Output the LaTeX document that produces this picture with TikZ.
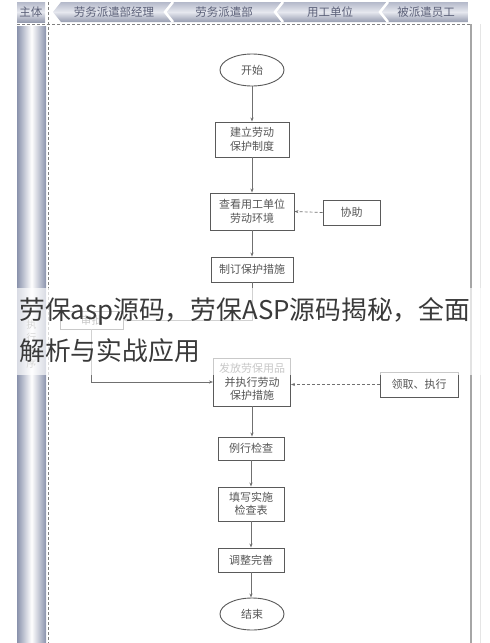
\documentclass[tikz,border=0pt]{standalone}
\usepackage{fontspec}
\newfontfamily\cjk{Noto Sans CJK SC}
\usetikzlibrary{arrows.meta,shapes.geometric}
\definecolor{boxc}{HTML}{5A5A5A}
\definecolor{txtc}{HTML}{555555}
\definecolor{hdtop}{HTML}{B4B9CA}
\definecolor{hdmid}{HTML}{E6E8EF}
\definecolor{hdbot}{HTML}{969CB0}
\definecolor{hdtxt}{HTML}{5B6078}
\definecolor{bar}{HTML}{8A92AC}
\definecolor{linec}{HTML}{707070}
\definecolor{ovtxt}{HTML}{3A3A3A}
\tikzset{
  stepbox/.style={draw=boxc, line width=0.9pt, fill=white, font=\cjk\fontsize{11}{13.5}\selectfont, text=txtc, align=center, inner sep=0pt},
  term/.style={stepbox, ellipse},
  arr/.style={draw=linec, line width=0.7pt, -{Stealth[length=4pt,width=3pt]}},
  darr/.style={arr, densely dashed},
  hdtext/.style={font=\cjk\fontsize{11.5}{13}\selectfont, text=hdtxt},
  sep/.style={draw=white, line width=2.5pt},
}
\begin{document}
\begin{tikzpicture}[x=1pt,y=-1pt]
\useasboundingbox (0,0) rectangle (490,643);
\fill[white] (0,0) rectangle (490,643);
% header
\shade[top color=hdtop, bottom color=hdbot, middle color=hdmid] (17,2) rectangle (45,22);
\node[hdtext] (hzt) at (31,12) {主体};
\shade[top color=hdtop, bottom color=hdbot, middle color=hdmid] (53,12) -- (61,2) -- (468,2) -- (468,22) -- (61,22) -- cycle;
\draw[sep] (173,2) -- (165,12) -- (173,22);
\draw[sep] (283,2) -- (275,12) -- (283,22);
\draw[sep] (388,2) -- (380,12) -- (388,22);
\node[hdtext] (h1) at (114,12) {劳务派遣部经理};
\node[hdtext] (h2) at (224,12) {劳务派遣部};
\node[hdtext] (h3) at (330,12) {用工单位};
\node[hdtext] (h4) at (426,12) {被派遣员工};
\draw[gray, densely dashed, line width=0.5pt] (17,24) -- (470,24);
\draw[gray, densely dashed, line width=0.5pt] (48,2) -- (48,643);
% left bar
\shade[left color=bar, right color=bar, middle color=white] (17,26) rectangle (46,643);
\foreach \c/\yy [count=\i] in {执/325,行/338,程/351,序/364}
  \node[font=\cjk\fontsize{10}{12}\selectfont, text=gray] (lb\i) at (31.5,\yy) {\c};
% right border
\draw[gray!70, line width=1.5pt] (471,24) -- (471,643);
\draw[gray!20, line width=0.8pt] (480,24) -- (480,643);
% nodes
\node[term, minimum width=64pt, minimum height=32pt] (start) at (252,70) {开始};
\node[stepbox, minimum width=74pt, minimum height=35pt] (n1) at (252,139.5) {建立劳动\\保护制度};
\node[stepbox, minimum width=84pt, minimum height=37pt] (n2) at (252,211.5) {查看用工单位\\劳动环境};
\node[stepbox, minimum width=57pt, minimum height=25pt] (help) at (351.5,212.5) {协助};
\node[stepbox, minimum width=82pt, minimum height=25pt] (n3) at (252,269.5) {制订保护措施};
\node[stepbox, minimum width=63pt, minimum height=18pt] (chk) at (91.5,320) {审批};
\node[stepbox, minimum width=77pt, minimum height=48pt] (n4) at (252,382) {发放劳保用品\\并执行劳动\\保护措施};
\node[stepbox, minimum width=78pt, minimum height=25pt] (recv) at (419,384.5) {领取、执行};
\node[stepbox, minimum width=66pt, minimum height=23pt] (n5) at (251,448.5) {例行检查};
\node[stepbox, minimum width=66pt, minimum height=34pt] (n6) at (251,504) {填写实施\\检查表};
\node[stepbox, minimum width=66pt, minimum height=24pt] (n7) at (251,560) {调整完善};
\node[term, minimum width=64pt, minimum height=32pt] (end) at (252,614) {结束};
% connectors
\draw[arr] (start.south) -- (start.south |- n1.north);
\draw[arr] (n1.south) -- (n1.south |- n2.north);
\draw[arr] (n2.south) -- (n2.south |- n3.north);
\draw[darr] (help.west) -- (n2.east);
\draw[arr] (n3.south) |- (chk.east);
\draw[arr] (chk.south) |- (n4.west);
\draw[darr] (recv.west) -- (recv.west -| n4.east);
\draw[arr] (n4.south) -- (n4.south |- n5.north);
\draw[arr] (n5.south) -- (n5.south |- n6.north);
\draw[arr] (n6.south) -- (n6.south |- n7.north);
\draw[arr] (n7.south) -- (n7.south |- end.north);
% overlay caption
\fill[white, opacity=0.68] (0,288) rectangle (490,375);
\node[anchor=west, inner sep=0pt, font=\cjk\fontsize{25.8}{30}\selectfont, text=ovtxt] (cap1) at (19,311) {劳保asp源码，劳保ASP源码揭秘，全面};
\node[anchor=west, inner sep=0pt, font=\cjk\fontsize{25.8}{30}\selectfont, text=ovtxt] (cap2) at (19,351) {解析与实战应用};
\end{tikzpicture}
\end{document}
